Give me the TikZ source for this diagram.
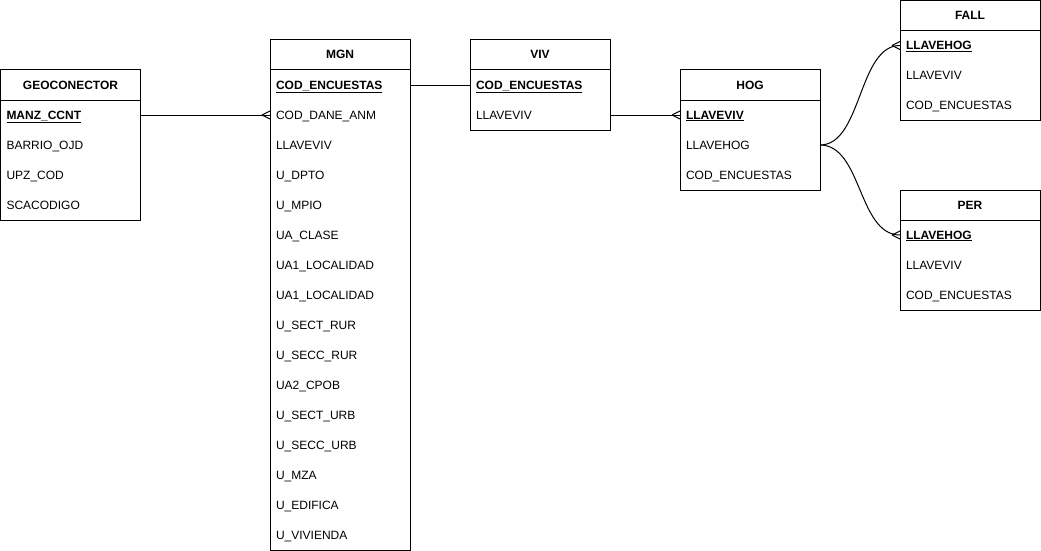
\documentclass[tikz,border=0pt]{standalone}
\usepackage{fontspec}
\setmainfont{Liberation Sans}
\newcommand\crowfoot[1]{\draw ([xshift=-8pt]#1) -- ([yshift=4pt]#1) ([xshift=-8pt]#1) -- ([yshift=-4pt]#1);}
\begin{document}
\begin{tikzpicture}[x=1pt,y=-1pt,line width=1pt,
  every node/.style={font=\fontsize{12}{14}\selectfont, outer sep=0pt, text height=10pt, text depth=2pt},
  hdr/.style={draw, anchor=north west, minimum width=140pt, minimum height=30pt, inner sep=0pt, font=\fontsize{12}{14}\selectfont\bfseries},
  fld/.style={anchor=north west, minimum width=140pt, minimum height=30pt, inner xsep=6pt, inner ysep=0pt, text width=128pt, align=left},
  key/.style={fld, font=\fontsize{12}{14}\selectfont\bfseries},
  conn/.style={line width=1pt}]
\useasboundingbox (0,0) rectangle (1041,551);

% GEOCONECTOR
\node[hdr] (geo) at (0.5,70) {GEOCONECTOR};
\node[key] (geo1) at (geo.south west) {\underline{MANZ\_CCNT}};
\node[fld] (geo2) at (geo1.south west) {BARRIO\_OJD};
\node[fld] (geo3) at (geo2.south west) {UPZ\_COD};
\node[fld] (geo4) at (geo3.south west) {SCACODIGO};
\draw (geo.north west) rectangle (geo4.south east);

% MGN
\node[hdr] (mgn) at (270,40) {MGN};
\node[key] (m1) at (mgn.south west) {\underline{COD\_ENCUESTAS}};
\node[fld] (m2) at (m1.south west) {COD\_DANE\_ANM};
\node[fld] (m3) at (m2.south west) {LLAVEVIV};
\node[fld] (m4) at (m3.south west) {U\_DPTO};
\node[fld] (m5) at (m4.south west) {U\_MPIO};
\node[fld] (m6) at (m5.south west) {UA\_CLASE};
\node[fld] (m7) at (m6.south west) {UA1\_LOCALIDAD};
\node[fld] (m8) at (m7.south west) {UA1\_LOCALIDAD};
\node[fld] (m9) at (m8.south west) {U\_SECT\_RUR};
\node[fld] (m10) at (m9.south west) {U\_SECC\_RUR};
\node[fld] (m11) at (m10.south west) {UA2\_CPOB};
\node[fld] (m12) at (m11.south west) {U\_SECT\_URB};
\node[fld] (m13) at (m12.south west) {U\_SECC\_URB};
\node[fld] (m14) at (m13.south west) {U\_MZA};
\node[fld] (m15) at (m14.south west) {U\_EDIFICA};
\node[fld] (m16) at (m15.south west) {U\_VIVIENDA};
\draw (mgn.north west) rectangle (m16.south east);

% VIV
\node[hdr] (viv) at (470,40) {VIV};
\node[key] (v1) at (viv.south west) {\underline{COD\_ENCUESTAS}};
\node[fld] (v2) at (v1.south west) {LLAVEVIV};
\draw (viv.north west) rectangle (v2.south east);

% HOG
\node[hdr] (hog) at (680,70) {HOG};
\node[key] (h1) at (hog.south west) {\underline{LLAVEVIV}};
\node[fld] (h2) at (h1.south west) {LLAVEHOG};
\node[fld] (h3) at (h2.south west) {COD\_ENCUESTAS};
\draw (hog.north west) rectangle (h3.south east);

% FALL
\node[hdr] (fall) at (900,0.5) {FALL};
\node[key] (f1) at (fall.south west) {\underline{LLAVEHOG}};
\node[fld] (f2) at (f1.south west) {LLAVEVIV};
\node[fld] (f3) at (f2.south west) {COD\_ENCUESTAS};
\draw (fall.north west) rectangle (f3.south east);

% PER
\node[hdr] (per) at (900,190) {PER};
\node[key] (p1) at (per.south west) {\underline{LLAVEHOG}};
\node[fld] (p2) at (p1.south west) {LLAVEVIV};
\node[fld] (p3) at (p2.south west) {COD\_ENCUESTAS};
\draw (per.north west) rectangle (p3.south east);

% connectors
\draw[conn] (geo1.east) -- (m2.west);
\crowfoot{m2.west}
\draw[conn] (m1.east) -- (v1.west);
\draw[conn] (v2.east) -- (h1.west);
\crowfoot{h1.west}
\draw[conn] (h2.east) .. controls +(42,0) and +(-42,0) .. (f1.west);
\crowfoot{f1.west}
\draw[conn] (h2.east) .. controls +(42,0) and +(-42,0) .. (p1.west);
\crowfoot{p1.west}
\end{tikzpicture}
\end{document}
